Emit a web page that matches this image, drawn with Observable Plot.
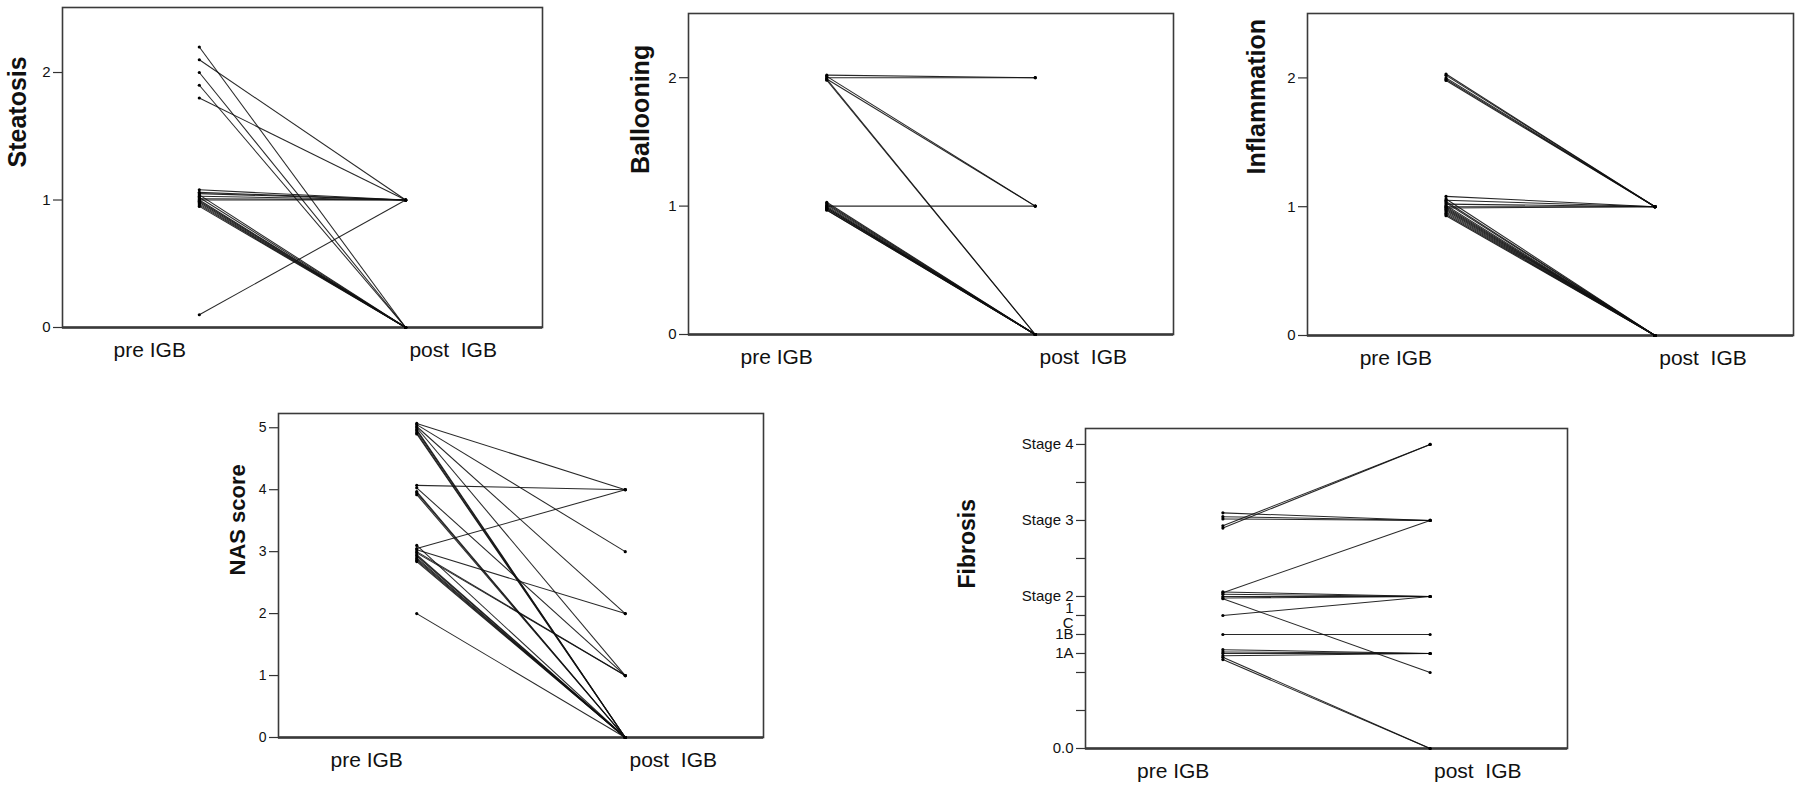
<!DOCTYPE html>
<html><head><meta charset="utf-8">
<script src="https://cdn.jsdelivr.net/npm/d3@7"></script>
<script src="https://cdn.jsdelivr.net/npm/@observablehq/plot@0.6"></script>
<style>
html,body{margin:0;padding:0;background:#fff;}
#root{position:relative;width:1800px;height:789px;overflow:hidden;font-family:"Liberation Sans",Arial,sans-serif;}
.panel{position:absolute;}
.panel svg{overflow:visible;}
.panel svg text{white-space:pre;}
</style></head><body><div id="root"></div>
<script>
// Shared x tick labels
const xTickLabels = ["pre IGB", "post  IGB"];

// Steatosis (pre values are jittered as in the source plot)
const steatosisPre  = [2.2, 2.1, 2.0, 1.9, 1.8, 1.08, 1.06, 1.05, 1.03, 1.01, 1.0, 1.04, 1.02, 1.0, 0.99, 0.98, 0.97, 0.96, 0.95, 0.1];
const steatosisPost = [0,   1,   0,   0,   1,   1,    1,    1,    1,    1,    1,   0,    0,    0,   0,    0,    0,    0,    0,    1];
const steatosisTicks = [0, 1, 2];

// Ballooning
const ballooningPre  = [2.02, 2.0, 2.01, 1.99, 1.99, 1.98, 1.0, 1.03, 1.02, 1.01, 1.0, 0.99, 0.99, 0.98, 0.98, 0.97, 0.97];
const ballooningPost = [2,    2,   1,    1,    0,    0,    1,   0,    0,    0,    0,   0,    0,    0,    0,    0,    0];
const ballooningTicks = [0, 1, 2];

// Inflammation
const inflammationPre  = [2.03, 2.02, 2.0, 1.99, 1.98, 1.08, 1.05, 1.02, 1.0, 0.99, 1.06, 1.04, 1.03, 1.01, 1.0, 0.99, 0.98, 0.97, 0.96, 0.95, 0.94, 0.93];
const inflammationPost = [1,    1,    1,   1,    1,    1,    1,    1,    1,   1,    0,    0,    0,    0,    0,   0,    0,    0,    0,    0,    0,    0];
const inflammationTicks = [0, 1, 2];

// NAS score
const nasPre  = [5.07, 5.05, 5.02, 5.0, 4.97, 4.95, 4.92, 4.9, 4.07, 4.03, 3.97, 3.95, 3.92, 3.1, 3.05, 3.03, 3.0, 2.98, 2.95, 2.93, 2.9, 2.88, 2.86, 2.84, 2.0];
const nasPost = [4,    3,    2,    1,    0,    0,    0,    0,   4,    1,    0,    0,    0,    0,   4,    2,    1,   1,    0,    0,    0,   0,    0,    0,    0];
const nasTicks = [0, 1, 2, 3, 4, 5];

// Fibrosis (1A = 1.25, 1B = 1.5, 1C = 1.75 on the stage axis)
const fibrosisPre  = [2.9, 2.93, 3.1, 3.05, 3.02, 2.05, 2.06, 2.03, 2.0, 1.98, 1.97, 1.75, 1.5, 1.3, 1.27, 1.25, 1.22, 1.2, 1.17];
const fibrosisPost = [4,   4,    3,   3,    3,    3,    2,    2,    2,   2,    1.0,  2,    1.5, 1.25, 1.25, 1.25, 1.25, 0,  0];
const fibrosisTicks = [0, 0.5, 1, 1.25, 1.5, 1.75, 2, 2.5, 3, 3.5, 4];
const fibrosisTickLabels = ["0.0", "", "", "1A", "1B", "1\nC", "Stage 2", "", "Stage 3", "", "Stage 4"];

const FONT = "'Liberation Sans', Arial, sans-serif";
const root = document.getElementById("root");

function makePanel(cfg) {
  const rows = cfg.pre.map((v, i) => ({pre: v, post: cfg.post[i]}));
  const plot = Plot.plot({
    width: cfg.w, height: cfg.h,
    marginLeft: cfg.mL, marginRight: cfg.mR, marginTop: cfg.mT, marginBottom: cfg.mB,
    style: {fontFamily: FONT, color: "#111", background: "transparent", overflow: "visible"},
    x: {domain: [-0.663, 1.663], label: null},
    y: {domain: cfg.yDomain, label: null},
    marks: [
      Plot.frame({stroke: "#3a3a3a", strokeWidth: 1.6}),
      Plot.ruleY([0], {stroke: "#3a3a3a", strokeWidth: 2.6}),
      Plot.axisX([-0.24, 1.23], {tickSize: 0, tickPadding: 15, fontSize: 21, fill: "#111",
        tickFormat: d => d < 0.5 ? xTickLabels[0] : xTickLabels[1]}),
      Plot.axisY(cfg.yTicks, {tickSize: 9, tickPadding: 3, fontSize: cfg.tickFont, fill: "#111",
        stroke: "#333", strokeWidth: 1.2, tickFormat: cfg.fmt || (d => String(d))}),
      Plot.link(rows, {x1: () => 0, x2: () => 1, y1: "pre", y2: "post", stroke: "#111", strokeWidth: 1.05, strokeOpacity: 0.9}),
      Plot.dot(rows, {x: () => 0, y: "pre", r: 1.6, fill: "#000"}),
      Plot.dot(rows, {x: () => 1, y: "post", r: 1.6, fill: "#000"}),
      Plot.text([cfg.yLabel], {frameAnchor: "left", rotate: -90, dx: cfg.labelDx, fontSize: cfg.labelFont,
        fontWeight: "bold", fill: "#111"})
    ]
  });
  const div = document.createElement("div");
  div.className = "panel";
  div.style.left = cfg.left + "px";
  div.style.top = cfg.top + "px";
  div.appendChild(plot);
  root.appendChild(div);
}

makePanel({pre: steatosisPre, post: steatosisPost, yLabel: "Steatosis", yDomain: [0, 2.51], yTicks: steatosisTicks,
  left: 0, top: 0, w: 560, h: 370, mL: 62, mR: 18, mT: 7, mB: 43, labelDx: -45, labelFont: 25, tickFont: 15});
makePanel({pre: ballooningPre, post: ballooningPost, yLabel: "Ballooning", yDomain: [0, 2.5], yTicks: ballooningTicks,
  left: 600, top: 0, w: 590, h: 380, mL: 88, mR: 17, mT: 13, mB: 46, labelDx: -48, labelFont: 25, tickFont: 15});
makePanel({pre: inflammationPre, post: inflammationPost, yLabel: "Inflammation", yDomain: [0, 2.5], yTicks: inflammationTicks,
  left: 1200, top: 0, w: 600, h: 380, mL: 107, mR: 7, mT: 13, mB: 45, labelDx: -51, labelFont: 25, tickFont: 15});
makePanel({pre: nasPre, post: nasPost, yLabel: "NAS score", yDomain: [0, 5.23], yTicks: nasTicks,
  left: 200, top: 380, w: 600, h: 409, mL: 78, mR: 37, mT: 33, mB: 52, labelDx: -41, labelFont: 22, tickFont: 14});
makePanel({pre: fibrosisPre, post: fibrosisPost, yLabel: "Fibrosis", yDomain: [0, 4.21], yTicks: fibrosisTicks,
  fmt: d => fibrosisTickLabels[fibrosisTicks.indexOf(d)],
  left: 950, top: 400, w: 650, h: 389, mL: 135, mR: 33, mT: 28, mB: 41, labelDx: -118, labelFont: 23, tickFont: 15});
</script>
</body></html>
